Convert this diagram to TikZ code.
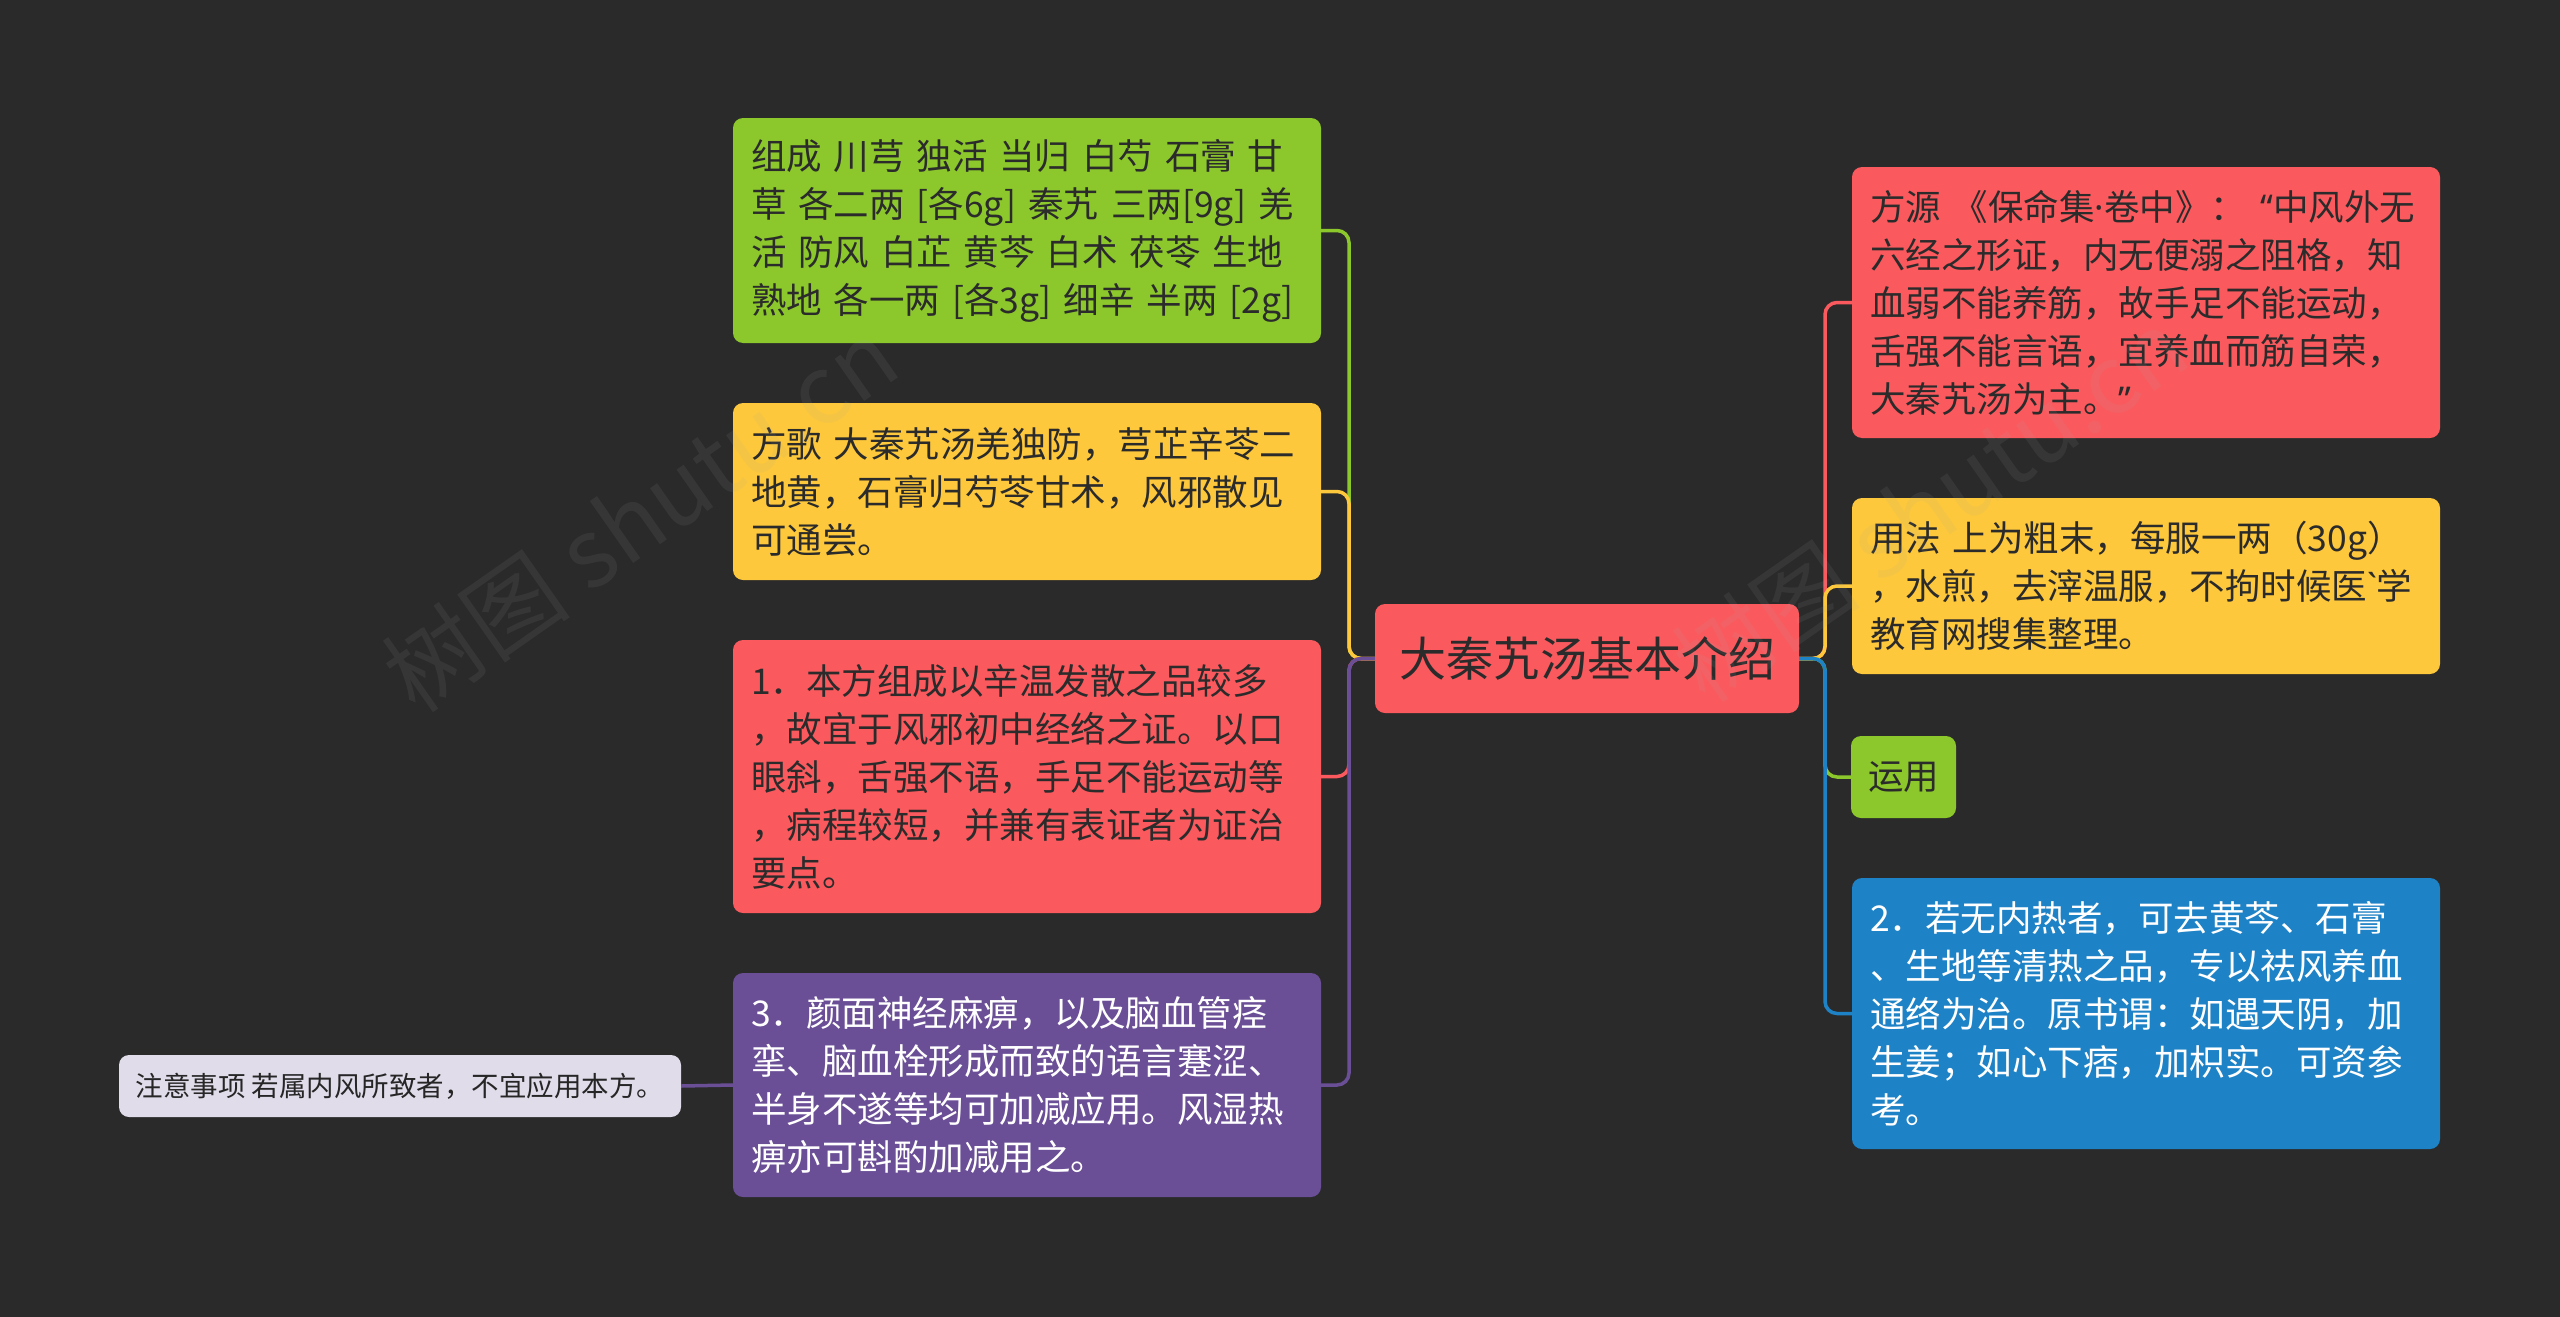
\documentclass[tikz,border=0pt]{standalone}
\usepackage{fontspec}
\setmainfont{Noto Sans CJK SC}
\newfontfamily\latinfont{Noto Sans}
\usepackage{tikz}

\definecolor{bgdark}{HTML}{2A2A2A}
\definecolor{txtdark}{HTML}{2B2B2B}
\definecolor{mapgreen}{HTML}{8CC82B}
\definecolor{mapyellow}{HTML}{FDC83B}
\definecolor{mapred}{HTML}{FA5A5E}
\definecolor{mappurple}{HTML}{6A4E96}
\definecolor{mapblue}{HTML}{1E82C6}
\definecolor{notegray}{HTML}{E1DCEA}

% narrow punctuation from a latin face
\newcommand{\ldot}{{\latinfont\symbol{"00B7}}}
\newcommand{\lopen}{{\latinfont\symbol{"201C}}}
\newcommand{\lclose}{{\latinfont\symbol{"201D}}}
\newcommand{\lgrave}{{\latinfont\symbol{96}}}

\tikzset{
  rootbox/.style={fill=mapred, rounded corners=10pt, minimum width=424pt, minimum height=109pt,
    text=txtdark, font=\fontsize{47}{56}\selectfont},
  leaf/.style={rounded corners=10pt, inner xsep=18pt, inner ysep=0pt, text width=552pt,
    align=left, text=txtdark, font=\fontsize{35.5}{48}\selectfont},
  tag/.style={rounded corners=10pt, minimum width=105pt, minimum height=82pt,
    text=txtdark, font=\fontsize{35.5}{48}\selectfont},
  notebox/.style={fill=notegray, rounded corners=10pt, minimum width=562pt, minimum height=62pt,
    text=black!85, font=\fontsize{27.5}{34}\selectfont},
  link/.style={line width=3.5pt, rounded corners=12pt},
  wmark/.style={text=gray!70, opacity=0.1, rotate=35, font=\fontsize{95}{95}\selectfont}
}

\begin{document}
\begin{tikzpicture}[x=1pt, y=-1pt]
\fill[bgdark] (0,0) rectangle (2560,1317);

% centre
\node[rootbox] (root) at (1587,658.5) {大秦艽汤基本介绍};

% left side
\node[leaf, fill=mapgreen, minimum height=225pt] (zucheng) at (1027,230.5)
  {组成 川芎 独活 当归 白芍 石膏 甘\\草 各二两 [各6g] 秦艽 三两[9g] 羌\\活 防风 白芷 黄芩 白术 茯苓 生地\\熟地 各一两 [各3g] 细辛 半两 [2g]};
\node[leaf, fill=mapyellow, minimum height=177pt] (fangge) at (1027,491.5)
  {方歌 大秦艽汤羌独防，芎芷辛苓二\\地黄，石膏归芍苓甘术，风邪散见\\可通尝。};
\node[leaf, fill=mapred, minimum height=273pt] (yaodian) at (1027,776.5)
  {1．本方组成以辛温发散之品较多\\，故宜于风邪初中经络之证。以口\\眼斜，舌强不语，手足不能运动等\\，病程较短，并兼有表证者为证治\\要点。};
\node[leaf, fill=mappurple, text=white, minimum height=224pt] (jiajian) at (1027,1085)
  {3．颜面神经麻痹，以及脑血管痉\\挛、脑血栓形成而致的语言蹇涩、\\半身不遂等均可加减应用。风湿热\\痹亦可斟酌加减用之。};
\node[notebox] (zhuyi) at (400,1086) {注意事项 若属内风所致者，不宜应用本方。};

% right side
\node[leaf, fill=mapred, minimum height=271pt] (fangyuan) at (2146,302.5)
  {方源 《保命集\ldot 卷中》：\hspace{0.4em}\lopen 中风外无\\六经之形证，内无便溺之阻格，知\\血弱不能养筋，故手足不能运动，\\舌强不能言语，宜养血而筋自荣，\\大秦艽汤为主。\lclose};
\node[leaf, fill=mapyellow, minimum height=176pt] (yongfa) at (2146,586)
  {用法 上为粗末，每服一两（30g）\\，水煎，去滓温服，不拘时候医\lgrave 学\\教育网搜集整理。};
\node[tag, fill=mapgreen] (yunyong) at (1903.5,777) {运用};
\node[leaf, fill=mapblue, text=white, minimum height=271pt] (jiajian2) at (2146,1013.5)
  {2．若无内热者，可去黄芩、石膏\\、生地等清热之品，专以祛风养血\\通络为治。原书谓：如遇天阴，加\\生姜；如心下痞，加枳实。可资参\\考。};

% connectors
\coordinate (ltrunk) at (1349,658.5);
\coordinate (rtrunk) at (1825,658.5);
\draw[link, mapgreen] (root.west) -- (ltrunk) |- (zucheng.east);
\draw[link, mapyellow] (root.west) -- (ltrunk) |- (fangge.east);
\draw[link, mapred] (root.west) -- (ltrunk) |- (yaodian.east);
\draw[link, mappurple] (root.west) -- (ltrunk) |- (jiajian.east);
\draw[link, mappurple] (jiajian.west) -- (zhuyi.east);
\draw[link, mapred] (root.east) -- (rtrunk) |- (fangyuan.west);
\draw[link, mapyellow] (root.east) -- (rtrunk) |- (yongfa.west);
\draw[link, mapgreen] (root.east) -- (rtrunk) |- (yunyong.west);
\draw[link, mapblue] (root.east) -- (rtrunk) |- (jiajian2.west);

% watermark
\node[wmark] (wmleft) at (640,515) {树图 shutu.cn};
\node[wmark] (wmright) at (1930,505) {树图 shutu.cn};
\end{tikzpicture}
\end{document}
